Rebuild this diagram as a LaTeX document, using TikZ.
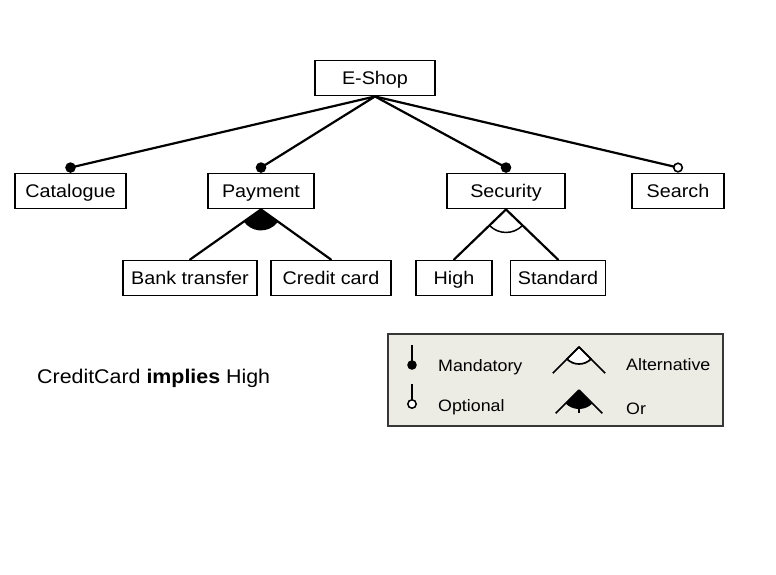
\documentclass[tikz,border=0pt]{standalone}
\usepackage{fontspec}
\setmainfont{Liberation Sans}[FakeStretch=1.08]
\definecolor{legbg}{RGB}{236,236,228}
\definecolor{legframe}{RGB}{55,55,55}
\tikzset{
  feat/.style={draw=black, line width=1.9pt, fill=white, minimum height=35, inner sep=0pt, text height=13pt, text depth=1pt, font=\fontsize{18.3}{20}\selectfont},
  conn/.style={line width=2.2pt, line cap=round},
  legline/.style={line width=1.7pt},
  legtext/.style={anchor=base west, inner sep=0pt, font=\fontsize{16.5}{18}\selectfont},
}
\begin{document}
\begin{tikzpicture}[x=1pt,y=-1pt]
\useasboundingbox[fill=white] (0,0) rectangle (776,574);

% feature nodes
\node[feat, minimum width=120] (eshop) at (375,78) {E-Shop};
\node[feat, minimum width=111] (catalogue) at (70.5,191) {Catalogue};
\node[feat, minimum width=106] (payment) at (261,191) {Payment};
\node[feat, minimum width=118] (security) at (506,191) {Security};
\node[feat, minimum width=92] (search) at (678,191) {Search};
\node[feat, minimum width=134] (bank) at (190,278) {Bank transfer};
\node[feat, minimum width=120] (credit) at (331,278) {Credit card};
\node[feat, minimum width=76] (high) at (454,278) {High};
\node[feat, minimum width=95] (standard) at (558,278) {Standard};

% connector end points
\coordinate (dcat) at ([yshift=5pt]catalogue.north);
\coordinate (dpay) at ([yshift=5pt]payment.north);
\coordinate (dsec) at ([yshift=5pt]security.north);
\coordinate (dsea) at ([yshift=5pt]search.north);

\draw[conn] (eshop.south) -- (dcat);
\draw[conn] (eshop.south) -- (dpay);
\draw[conn] (eshop.south) -- (dsec);
\draw[conn] (eshop.south) -- (dsea);
\fill (dcat) circle (5.3);
\fill (dpay) circle (5.3);
\fill (dsec) circle (5.3);
\draw[line width=1.6pt, fill=white] (dsea) circle (4.3);

% Or group under Payment
\draw[conn] (payment.south) -- (bank.north);
\draw[conn] (payment.south) -- (credit.north);
\fill (payment.south) -- ++(36.4:21) arc (36.4:143.8:21) -- cycle;

% Alternative group under Security
\draw[conn] (security.south) -- (high.north);
\draw[conn] (security.south) -- (standard.north);
\draw[line width=1.5pt] ([shift={(45:23)}]security.south) arc (45:135:23);

% constraint
\node[anchor=base west, inner sep=0pt, font=\fontsize{19.8}{22}\selectfont] (constraint) at (37,383) {CreditCard \textbf{implies} High};

% legend
\node[draw=legframe, fill=legbg, line width=2pt, minimum width=335, minimum height=92, inner sep=0pt] (legend) at (555.5,380) {};

% mandatory
\coordinate (mtop) at (412,345);
\coordinate (mdot) at (412,365);
\draw[legline] (mtop) -- (mdot);
\fill (mdot) circle (4.8);
\node[legtext] (lmand) at (438,371) {Mandatory};

% optional
\coordinate (otop) at (412,384);
\coordinate (odot) at (412,404);
\draw[legline] (otop) -- (odot);
\draw[line width=1.5pt, fill=white] (odot) circle (4.2);
\node[legtext] (lopt) at (438,411) {Optional};

% alternative
\coordinate (aapex) at (579,347);
\draw[legline, fill=white] (aapex) -- ++(45:17) arc (45:135:17) -- cycle;
\draw[legline] (aapex) -- ++(45:37);
\draw[legline] (aapex) -- ++(135:37);
\node[legtext] (lalt) at (626,370) {Alternative};

% or
\coordinate (oapex) at (579,390);
\fill (oapex) -- ++(45:19) arc (45:135:19) -- cycle;
\draw[legline] (oapex) -- ++(45:33);
\draw[legline] (oapex) -- ++(135:33);
\draw[legline] (oapex) -- ++(0,23);
\node[legtext] (lor) at (626,414) {Or};
\end{tikzpicture}
\end{document}
